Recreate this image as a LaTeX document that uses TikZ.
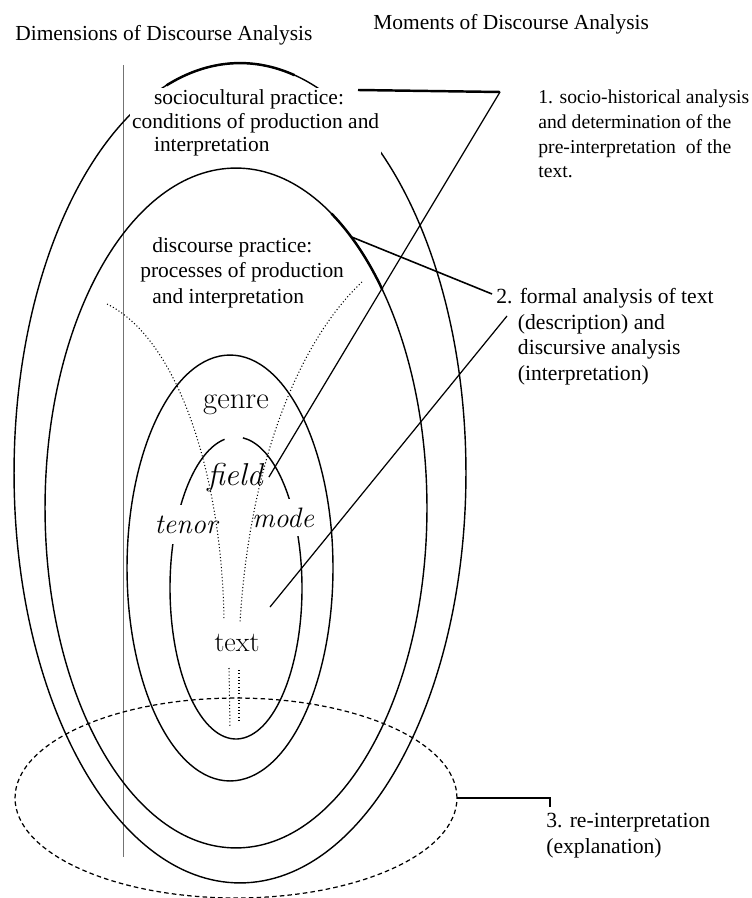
\documentclass[tikz,border=0pt]{standalone}
\usepackage{fontspec}
\newfontfamily\timesfont{Liberation Serif}
\usetikzlibrary{shapes.geometric}

\begin{document}
\begin{tikzpicture}[x=0.02cm, y=0.02cm,
    ring/.style={draw, ellipse, inner sep=0pt, outer sep=0pt, line width=0.8pt},
    reread/.style={draw, ellipse, inner sep=0pt, outer sep=0pt, line width=0.7pt, dash pattern=on 2.6pt off 1.8pt},
    fan/.style={line width=0.6pt, dash pattern=on 0.6pt off 1.3pt},
    link/.style={line width=0.7pt},
    heavy/.style={line width=1.4pt},
    heading/.style={font=\timesfont\fontsize{12.2}{14}\selectfont, inner sep=0pt, anchor=base west},
    dimtext/.style={font=\timesfont\fontsize{12.2}{13.6}\selectfont, align=left, inner sep=0pt, anchor=base west},
    moment/.style={font=\timesfont\fontsize{11.2}{14.2}\selectfont, align=left, inner sep=0pt, anchor=base west},
    register/.style={font=\fontsize{16}{18}\selectfont\itshape, anchor=base},
    tier/.style={font=\fontsize{17.5}{20}\selectfont, anchor=base}]

    \useasboundingbox (0,0) rectangle (751,-898);

    % headings
    \node[heading] (dimhead) at (15,-41) {Dimensions of Discourse Analysis};
    \node[heading] (momhead) at (373,-30) {Moments of Discourse Analysis};

    \draw[black!55, line width=0.4pt] (123,-65) -- (123,-857);

    % nested dimensions
    \node[ring, minimum width=9.04cm, minimum height=16.4cm] (socring) at (240,-473) {};
    \node[ring, minimum width=7.64cm, minimum height=13.6cm] (discring) at (236,-508) {};
    \node[ring, minimum width=4.12cm, minimum height=8.52cm] (textring) at (230,-568) {};
    \coordinate (core) at (236,-588);
    \draw[line width=0.8pt] (core) ++(100:1.32cm and 3.02cm) arc[start angle=100, end angle=444, x radius=1.32cm, y radius=3.02cm];
    \node[reread, minimum width=8.84cm, minimum height=4cm] (reint) at (236,-798) {};

    % base of a multi-line node = its last line
    \node[dimtext, fill=white, inner sep=1pt] (socio) at (130,-152)
        {\hspace*{12.5pt}sociocultural practice:\\conditions of production and\\\hspace*{12.5pt}interpretation};
    \node[dimtext, font=\timesfont\fontsize{12.2}{14.5}\selectfont] (disc) at (140,-303)
        {\hspace*{6.8pt}discourse practice:\\processes of production\\\hspace*{6.8pt}and interpretation};

    \node[tier] (genre) at (236,-408) {genre};
    \node[register, font=\fontsize{18}{20}\selectfont\itshape] (field) at (235,-485) {field};
    \node[register, fill=white, inner xsep=1pt, inner ysep=6pt] (tenor) at (186,-533) {tenor};
    \node[register, fill=white, inner xsep=1pt, inner ysep=5pt] (mode) at (283,-527) {mode};
    \node[tier, font=\fontsize{16}{18}\selectfont] (txt) at (237,-651) {text};

    % dotted fan from genre down to text
    \coordinate (fanL) at (107,-304);
    \coordinate (fanLend) at (224,-620);
    \coordinate (fanR) at (362,-282);
    \coordinate (fanRend) at (240,-622);
    \draw[fan] (fanL) .. controls (180,-340) and (222,-480) .. (fanLend);
    \draw[fan] (fanR) .. controls (300,-340) and (250,-460) .. (fanRend);
    \draw[fan] (229,-668) -- (230,-728);
    \draw[fan] (239,-670) -- (239,-722);

    % moments
    \node[moment] (lab1) at (538,-178)
        {1. socio-historical analysis\\and determination of the\\pre-interpretation~ of the\\text.};
    \node[moment, font=\timesfont\fontsize{12.3}{14.5}\selectfont] (lab2) at (496,-380)
        {2. formal analysis of text\\\hphantom{2.~}(description) and\\\hphantom{2.~}discursive analysis\\\hphantom{2.~}(interpretation)};
    \node[moment, font=\timesfont\fontsize{12.3}{14.8}\selectfont] (lab3) at (546,-853)
        {3. re-interpretation\\(explanation)};

    % connectors
    \coordinate (k1a) at (358,-90);
    \coordinate (k1) at (500,-92);
    \draw[heavy] (k1a) -- (k1);
    \draw[link] (k1) -- (field.east);

    \coordinate (k2) at (492,-294);
    \draw[link, line width=0.9pt] (discring.67) -- (k2);
    \coordinate (k2b) at (507,-316);
    \coordinate (k2c) at (270,-607);
    \draw[link] (k2b) -- (k2c);

    \coordinate (k3) at (550,-798);
    \coordinate (k3e) at (550,-807);
    \draw[link] (reint.east) -- (k3) -- (k3e);

    % pen-heavy strokes
    \draw[heavy] (socring.center) ++(76:4.52cm and 8.2cm) arc[start angle=76, end angle=109, x radius=4.52cm, y radius=8.2cm];
    \draw[heavy] (discring.center) ++(40:3.82cm and 6.8cm) arc[start angle=40, end angle=60, x radius=3.82cm, y radius=6.8cm];
\end{tikzpicture}
\end{document}
